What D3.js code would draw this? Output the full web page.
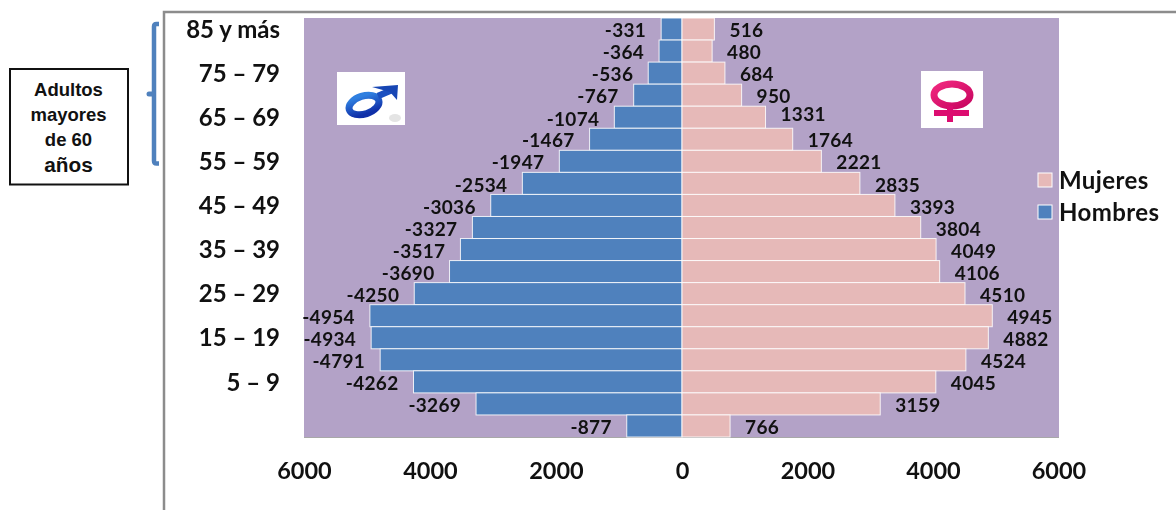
<!DOCTYPE html>
<html><head><meta charset="utf-8">
<script src="https://cdn.jsdelivr.net/npm/d3@7/dist/d3.min.js"></script>
<style>html,body{margin:0;padding:0;background:#fff}svg{display:block}text{font-family:Lato,sans-serif;font-weight:700;fill:#111}</style>
</head><body><div id="c"></div>
<script>
const categories=["85 y más","80 – 84","75 – 79","70 – 74","65 – 69","60 – 64","55 – 59","50 – 54","45 – 49","40 – 44","35 – 39","30 – 34","25 – 29","20 – 24","15 – 19","10 – 14","5 – 9","1 – 4","< 1"];
const shownCategories=["85 y más","75 – 79","65 – 69","55 – 59","45 – 49","35 – 39","25 – 29","15 – 19","5 – 9"];
const hombres=[-331,-364,-536,-767,-1074,-1467,-1947,-2534,-3036,-3327,-3517,-3690,-4250,-4954,-4934,-4791,-4262,-3269,-877];
const mujeres=[516,480,684,950,1331,1764,2221,2835,3393,3804,4049,4106,4510,4945,4882,4524,4045,3159,766];
const xTicks=[-6000,-4000,-2000,0,2000,4000,6000];
const noteLines=["Adultos","mayores","de 60","años"];
const legendItems=[["Mujeres","#e6b9b8"],["Hombres","#4f81bd"]];

const svg=d3.select("#c").append("svg").attr("width",1176).attr("height",510);
const x=d3.scaleLinear().domain([-6000,0,6000]).range([304,682,1058.5]);
const y=d3.scaleBand().domain(categories).range([18,437]).padding(0);

svg.append("path").attr("d","M164,510V12H1176").attr("fill","none").attr("stroke","#8c8c8c").attr("stroke-width",2.5);
svg.append("rect").attr("x",304).attr("y",18).attr("width",755).attr("height",419).attr("fill","#b3a2c7");
svg.append("line").attr("x1",304).attr("x2",1059).attr("y1",437.5).attr("y2",437.5).attr("stroke","#a8a8a8").attr("stroke-width",1);

const bars=(vals,fill)=>svg.append("g").selectAll("rect").data(vals).join("rect")
  .attr("x",d=>Math.min(x(0),x(d))).attr("width",d=>Math.abs(x(d)-x(0)))
  .attr("y",(d,i)=>y(categories[i])).attr("height",y.bandwidth())
  .attr("fill",fill).attr("stroke","#fff").attr("stroke-opacity",.85).attr("stroke-width",1);
bars(hombres,"#4f81bd");
bars(mujeres,"#e6b9b8");

const labels=(vals,dx,anchor)=>svg.append("g").selectAll("text").data(vals).join("text")
  .attr("x",d=>x(d)+dx).attr("y",(d,i)=>y(categories[i])+y.bandwidth()/2+(d===1331?-3:1.5)+(d===-1074?1:0))
  .attr("dy",".35em").attr("text-anchor",anchor).attr("font-size",19).style("letter-spacing","0.3px").style("filter","blur(.4px)").text(d=>d);
labels(hombres,-15,"end");
labels(mujeres,15,"start");

const yAxis=d3.axisLeft(y).tickValues(shownCategories).tickSize(0).tickPadding(0);
const gy=svg.append("g").attr("transform","translate(280,1)").call(yAxis);
gy.select(".domain").remove();
gy.selectAll("text").attr("font-size",24).style("font-family","Lato,sans-serif").style("font-weight",700).attr("fill","#111").style("filter","blur(.4px)");

const xAxis=d3.axisBottom(x).tickValues(xTicks).tickSize(0).tickPadding(0).tickFormat(d=>Math.abs(d));
const gx=svg.append("g").attr("transform","translate(0,462)").call(xAxis);
gx.select(".domain").remove();
gx.selectAll("text").attr("font-size",23.5).style("font-family","Lato,sans-serif").style("font-weight",700).attr("fill","#111").style("filter","blur(.4px)");

const defs=svg.append("defs");
const mg=defs.append("linearGradient").attr("id","mg").attr("x1",0).attr("y1",0).attr("x2",0).attr("y2",1);
mg.append("stop").attr("offset",0).attr("stop-color","#2f7fe0");
mg.append("stop").attr("offset",1).attr("stop-color","#0f2fa8");
const fg=defs.append("linearGradient").attr("id","fg").attr("x1",0).attr("y1",0).attr("x2",1).attr("y2",1);
fg.append("stop").attr("offset",0).attr("stop-color","#f0287f");
fg.append("stop").attr("offset",1).attr("stop-color","#c80660");

const m=svg.append("g");
m.append("rect").attr("x",337).attr("y",72).attr("width",68).attr("height",53).attr("fill","#fff");
m.append("ellipse").attr("cx",364).attr("cy",105).attr("rx",15.5).attr("ry",9).attr("transform","rotate(-18 364 105)").attr("fill","none").attr("stroke","url(#mg)").attr("stroke-width",7);
m.append("path").attr("d","M378,96L392,90").attr("stroke","#1a4fc0").attr("stroke-width",6.5).attr("fill","none");
m.append("path").attr("d","M372,87L398,85L397,100L390,92Z").attr("fill","#1746b4");
m.append("ellipse").attr("cx",395).attr("cy",118).attr("rx",6).attr("ry",4).attr("fill","#e4e4e4");
const f=svg.append("g");
f.append("rect").attr("x",921).attr("y",71).attr("width",62).attr("height",57).attr("fill","#fff");
f.append("ellipse").attr("cx",952).attr("cy",95).attr("rx",18).attr("ry",11).attr("fill","none").attr("stroke","url(#fg)").attr("stroke-width",7);
f.append("path").attr("d","M950,106V122M934,113H969").attr("stroke","#dc0c70").attr("stroke-width",6).attr("fill","none");

const lg=svg.append("g").selectAll("g").data(legendItems).join("g").attr("transform",(d,i)=>`translate(1038,${173+i*32})`);
lg.append("rect").attr("width",14).attr("height",14).attr("fill",d=>d[1]).attr("stroke","#fff").attr("stroke-width",1);
lg.append("text").attr("x",21).attr("y",8).attr("dy",".35em").attr("font-size",24).style("letter-spacing","0.4px").style("filter","blur(.4px)").text(d=>d[0]);

svg.append("rect").attr("x",10).attr("y",69).attr("width",118).attr("height",115.5).attr("fill","#fff").attr("stroke","#111").attr("stroke-width",2);
const noteY=[96,121,146,172];
svg.append("g").selectAll("text").data(noteLines).join("text").attr("x",68.5).attr("y",(d,i)=>noteY[i]).attr("text-anchor","middle")
  .style("font-family","'Liberation Sans',Arial,sans-serif").attr("font-size",(d,i)=>i===3?20.8:18.5).text(d=>d);
svg.append("path").attr("d","M159,24H156.5Q154,24 154,26.5V161Q154,163.5 156.5,163.5H159").attr("fill","none").attr("stroke","#4f81bd").attr("stroke-width",4.5);
svg.append("path").attr("d","M149,94H153").attr("fill","none").attr("stroke","#4f81bd").attr("stroke-width",5).attr("stroke-linecap","round");
</script></body></html>
